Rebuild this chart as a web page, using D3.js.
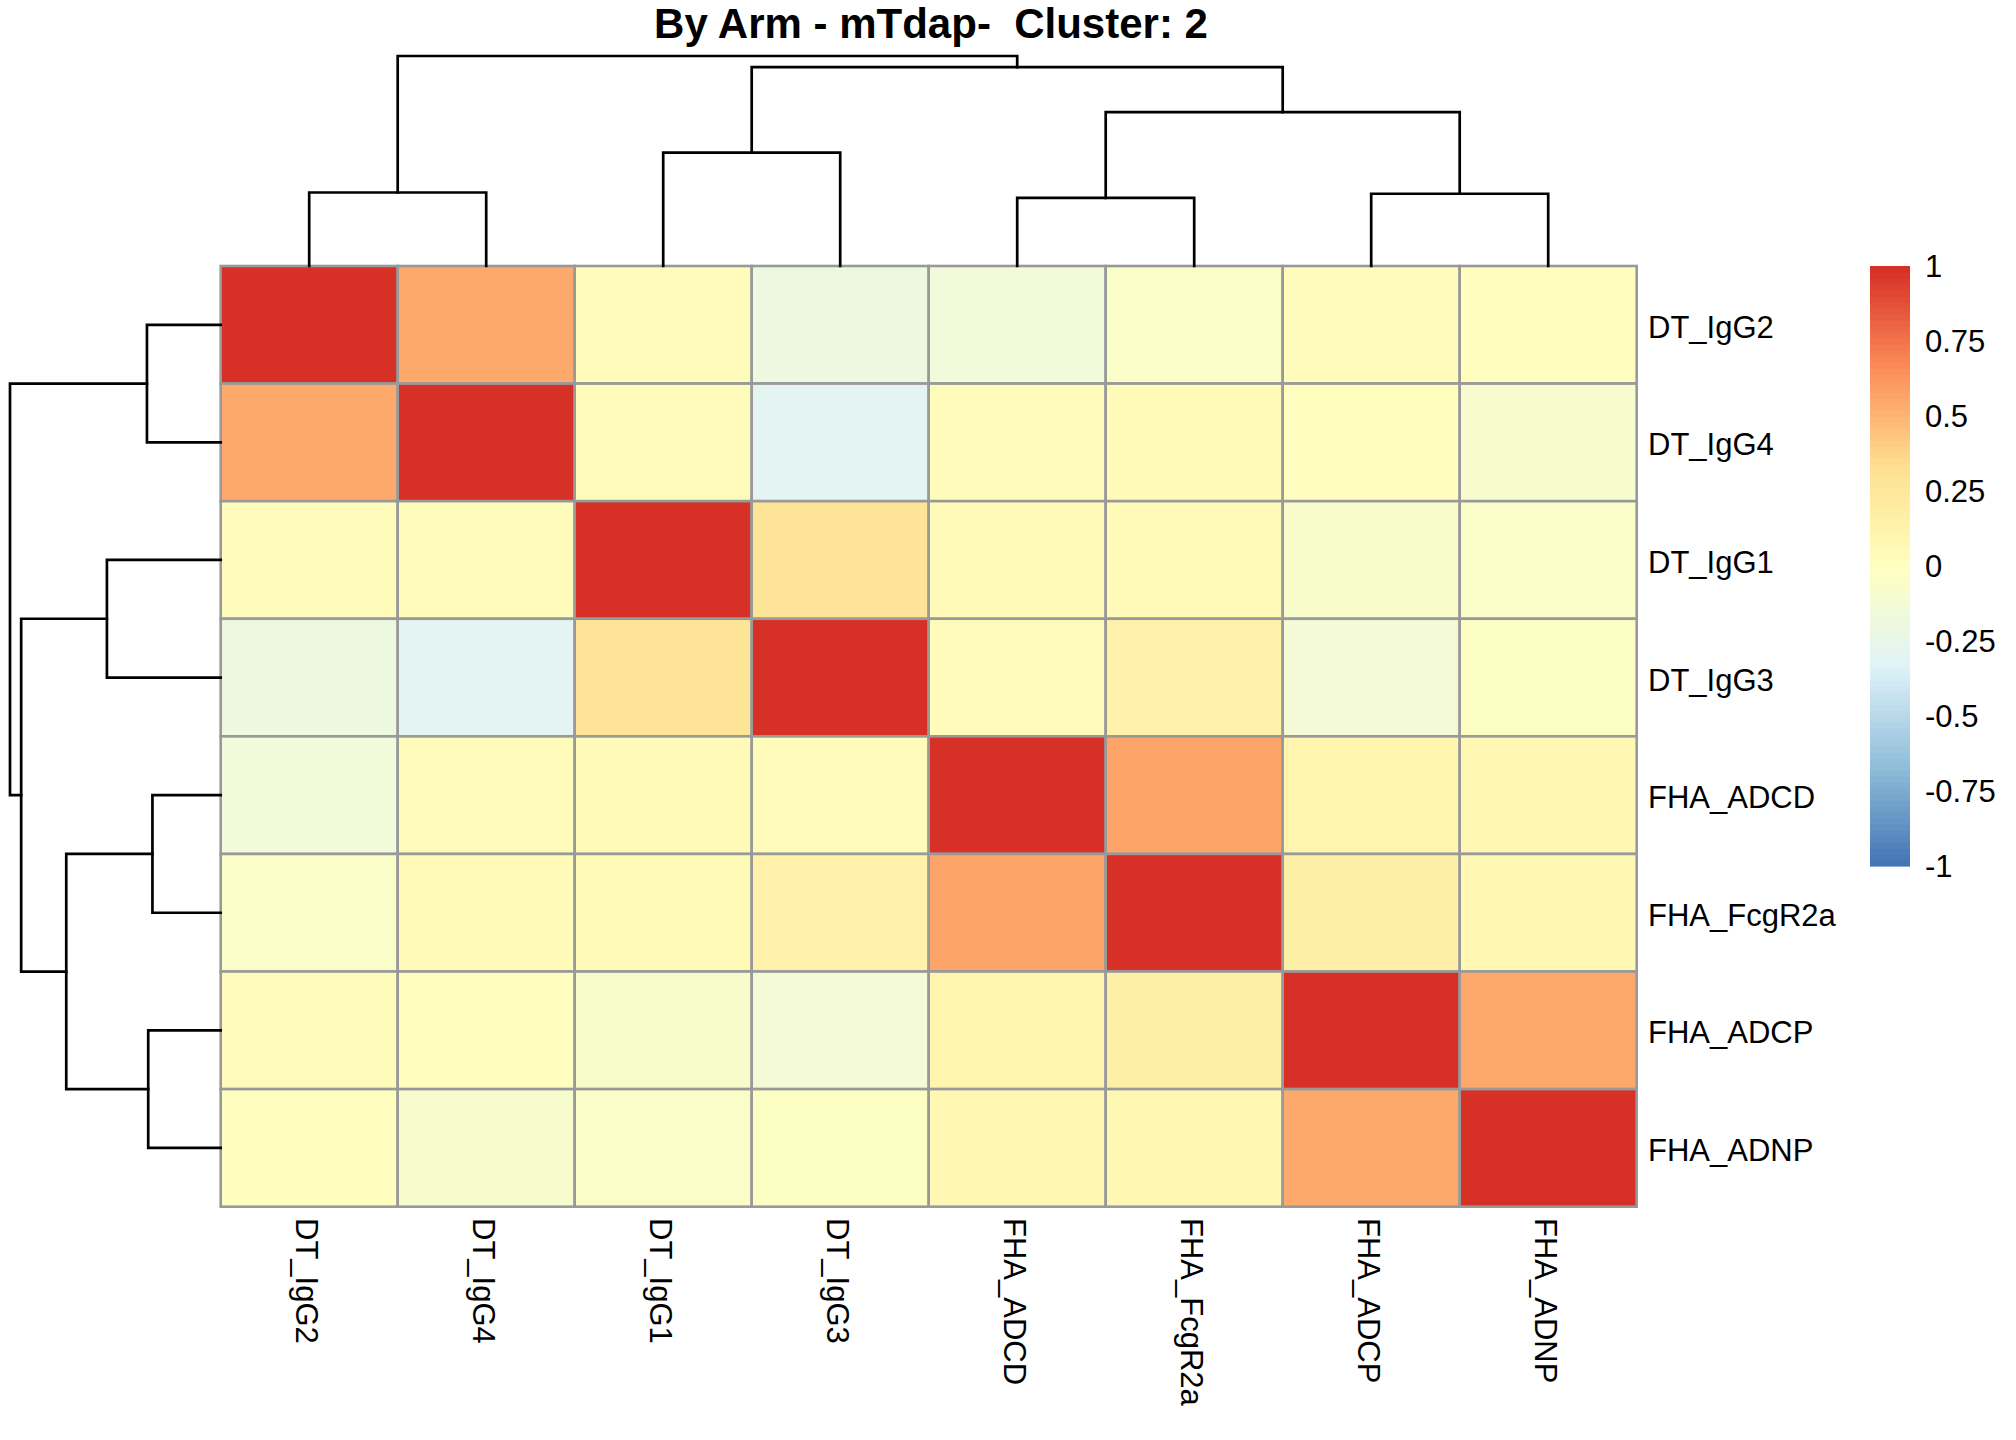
<!DOCTYPE html>
<html>
<head>
<meta charset="utf-8">
<script src="https://cdn.jsdelivr.net/npm/d3@7"></script>
<style>
  html, body { margin: 0; padding: 0; background: #ffffff; }
  svg { display: block; font-family: "Liberation Sans", Arial, sans-serif; }
</style>
</head>
<body>
<svg id="chart" width="2016" height="1440"></svg>
<script>
// ---------------- data ----------------
const title = "By Arm - mTdap-  Cluster: 2";
const rowLabels = ["DT_IgG2", "DT_IgG4", "DT_IgG1", "DT_IgG3", "FHA_ADCD", "FHA_FcgR2a", "FHA_ADCP", "FHA_ADNP"];
const colLabels = ["DT_IgG2", "DT_IgG4", "DT_IgG1", "DT_IgG3", "FHA_ADCD", "FHA_FcgR2a", "FHA_ADCP", "FHA_ADNP"];
// correlation values, rows in rowLabels order, columns in colLabels order
const corr = [
  [ 1.00,  0.55,  0.02, -0.19, -0.16, -0.05,  0.02,  0.01],
  [ 0.55,  1.00,  0.02, -0.30,  0.02,  0.05,  0.01, -0.09],
  [ 0.02,  0.02,  1.00,  0.28,  0.04,  0.04, -0.08, -0.05],
  [-0.19, -0.30,  0.28,  1.00,  0.03,  0.15, -0.14, -0.04],
  [-0.16,  0.02,  0.04,  0.03,  1.00,  0.57,  0.10,  0.07],
  [-0.05,  0.05,  0.04,  0.15,  0.57,  1.00,  0.17,  0.07],
  [ 0.02,  0.01, -0.08, -0.14,  0.10,  0.17,  1.00,  0.55],
  [ 0.01, -0.09, -0.05, -0.04,  0.07,  0.07,  0.55,  1.00]
];
const legendTicks = [1, 0.75, 0.5, 0.25, 0, -0.25, -0.5, -0.75, -1];
const paletteAnchors = ["#4575B4", "#91BFDB", "#E0F3F8", "#FFFFBF", "#FEE090", "#FC8D59", "#D73027"];
// hierarchical clustering tree (relative merge heights), same for rows and columns
const tree = {h: 1.0, children: [
  {h: 0.350, children: [{name: "DT_IgG2"}, {name: "DT_IgG4"}]},
  {h: 0.947, children: [
    {h: 0.540, children: [{name: "DT_IgG1"}, {name: "DT_IgG3"}]},
    {h: 0.733, children: [
      {h: 0.324, children: [{name: "FHA_ADCD"}, {name: "FHA_FcgR2a"}]},
      {h: 0.344, children: [{name: "FHA_ADCP"}, {name: "FHA_ADNP"}]}
    ]}
  ]}
]};

// ---------------- layout ----------------
const L = 220.7, R = 1636.7, T = 266, B = 1206.7;
const svg = d3.select("#chart");
svg.append("rect").attr("width", 2016).attr("height", 1440).attr("fill", "#ffffff");

const x = d3.scaleBand().domain(colLabels).range([L, R]);
const y = d3.scaleBand().domain(rowLabels).range([T, B]);

const palette = d3.quantize(d3.piecewise(d3.interpolateRgb, paletteAnchors), 100);
const binScale = d3.scaleLinear().domain([-1, 1]).range([0, 100]);
const colorFor = v => palette[Math.max(0, Math.min(99, Math.floor(binScale(v) + 1e-9)))];

// ---------------- cells ----------------
const cells = [];
rowLabels.forEach((r, i) => colLabels.forEach((c, j) => cells.push({r, c, v: corr[i][j]})));
svg.append("g").selectAll("rect").data(cells).join("rect")
  .attr("x", d => x(d.c)).attr("y", d => y(d.r))
  .attr("width", x.bandwidth()).attr("height", y.bandwidth())
  .attr("fill", d => colorFor(d.v))
  .attr("stroke", "#999999").attr("stroke-width", 2.6);

// ---------------- dendrograms ----------------
function drawDendro(posOf, hScale, orient) {
  const root = d3.hierarchy(tree);
  root.eachAfter(n => {
    if (!n.children) { n.pos = posOf(n.data.name); n.ht = 0; }
    else { n.pos = d3.mean(n.children, c => c.pos); n.ht = n.data.h; }
  });
  const g = svg.append("g").attr("fill", "none").attr("stroke", "#000").attr("stroke-width", 2.7)
    .attr("stroke-linecap", "square");
  root.descendants().filter(n => n.children).forEach(n => {
    const [a, b] = n.children;
    let p;
    if (orient === "top") {
      p = `M${a.pos},${hScale(a.ht)}V${hScale(n.ht)}H${b.pos}V${hScale(b.ht)}`;
    } else {
      p = `M${hScale(a.ht)},${a.pos}H${hScale(n.ht)}V${b.pos}H${hScale(b.ht)}`;
    }
    g.append("path").attr("d", p);
  });
}
drawDendro(name => x(name) + x.bandwidth() / 2, d3.scaleLinear().domain([0, 1]).range([T, 56]), "top");
drawDendro(name => y(name) + y.bandwidth() / 2, d3.scaleLinear().domain([0, 1]).range([L, 10]), "left");

// ---------------- labels ----------------
svg.append("g").selectAll("text").data(rowLabels).join("text")
  .attr("x", 1648).attr("y", d => y(d) + y.bandwidth() / 2 + 13)
  .attr("font-size", 31).attr("fill", "#000").text(d => d);

svg.append("g").selectAll("text").data(colLabels).join("text")
  .attr("transform", d => `translate(${x(d) + x.bandwidth() / 2},1218) rotate(90)`)
  .attr("y", 13.5)
  .attr("font-size", 31).attr("fill", "#000").text(d => d);

svg.append("text")
  .attr("x", 931).attr("y", 38)
  .attr("text-anchor", "middle").attr("font-size", 42).attr("font-weight", "bold")
  .style("white-space", "pre")
  .text(title);

// ---------------- legend ----------------
const LT = 266, LB = 866, LX = 1870, LW = 40;
const legY = d3.scaleLinear().domain([-1, 1]).range([LB, LT]);
const legG = svg.append("g");
const stepH = (LB - LT) / palette.length;
legG.selectAll("rect").data(palette).join("rect")
  .attr("x", LX).attr("width", LW)
  .attr("y", (d, i) => legY(-1) - (i + 1) * stepH)
  .attr("height", stepH + 0.6)
  .attr("fill", d => d);
legG.selectAll("text").data(legendTicks).join("text")
  .attr("x", 1925).attr("y", d => legY(d)).attr("dy", "0.36em")
  .attr("font-size", 31).attr("fill", "#000")
  .text(d => String(d));
</script>
</body>
</html>
